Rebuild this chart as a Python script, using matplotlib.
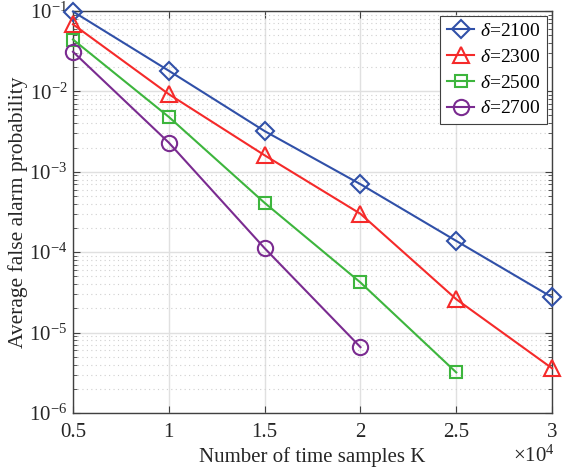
import numpy as np
import matplotlib
matplotlib.use("Agg")
import matplotlib.pyplot as plt
from matplotlib.ticker import LogLocator, NullFormatter

# Data
K_blue = [5000, 10000, 15000, 20000, 25000, 30000]
pfa_2100 = [0.098, 0.018, 0.0032, 7.0e-4, 1.38e-4, 2.75e-5]
K_red = [5000, 10000, 15000, 20000, 25000, 30000]
pfa_2300 = [0.068, 0.0092, 0.0016, 3.0e-4, 2.6e-5, 3.6e-6]
K_green = [5000, 10000, 15000, 20000, 25000]
pfa_2500 = [0.044, 0.0048, 4.1e-4, 4.2e-5, 3.2e-6]
K_purple = [5000, 10000, 15000, 20000]
pfa_2700 = [0.031, 0.0023, 1.12e-4, 6.6e-6]
labels = [r"$\delta$=2100", r"$\delta$=2300", r"$\delta$=2500", r"$\delta$=2700"]
xticks = [0.5, 1, 1.5, 2, 2.5, 3]
xticklabels = ["0.5", "1", "1.5", "2", "2.5", "3"]

plt.rcParams['font.family'] = ['Liberation Serif', 'DejaVu Serif']
plt.rcParams['mathtext.fontset'] = 'custom'
plt.rcParams['mathtext.it'] = 'Liberation Serif:italic'
plt.rcParams['mathtext.rm'] = 'Liberation Serif'

fig = plt.figure(figsize=(5.68, 4.71), dpi=100)
ax = fig.add_axes([0.1285, 0.123, 0.8435, 0.854])

series = [
    (K_blue, pfa_2100, "#3050a8", "D", 9),
    (K_red, pfa_2300, "#f52a2a", "^", 11),
    (K_green, pfa_2500, "#3db53d", "s", 8),
    (K_purple, pfa_2700, "#7a2b90", "o", 11),
]
for (k, p, c, m, ms), lab in zip(series, labels):
    ax.semilogy(np.array(k) / 1e4, p, color=c, marker=m, markersize=ms,
                markerfacecolor="none", markeredgewidth=1.5, linewidth=1.5,
                label=lab, clip_on=False, zorder=3)

ax.set_xlim(0.5, 3)
ax.set_ylim(1e-6, 1e-1)
ax.set_xticks(xticks)
ax.set_xticklabels(xticklabels)
ax.yaxis.set_major_locator(LogLocator(base=10, numticks=10))
ax.yaxis.set_minor_locator(LogLocator(base=10, subs=np.arange(2, 10), numticks=20))
ax.yaxis.set_minor_formatter(NullFormatter())

ax.grid(True, which="major", color="#e0e0e0", linewidth=1.0, linestyle="-")
ax.grid(True, which="minor", axis="y", color="#d0d0d0", linewidth=0.8, linestyle=(0, (1, 3)))
ax.set_axisbelow(True)

ax.tick_params(which="both", direction="in", top=True, right=True, labelsize=15,
               colors="#404040", labelcolor="#262626")
ax.tick_params(axis="x", pad=7)
ax.tick_params(axis="y", pad=4)
ax.tick_params(which="major", length=5)
ax.tick_params(which="minor", length=3)
for s in ax.spines.values():
    s.set_color("#404040")
    s.set_linewidth(1.0)

ax.set_xlabel("Number of time samples K", fontsize=15, color="#262626", labelpad=4)
ax.set_ylabel("Average false alarm probability", fontsize=15.5, color="#262626", labelpad=1)
ax.text(1.005, -0.108, r"$\times10^{4}$", transform=ax.transAxes, ha="right", va="center",
        fontsize=15, color="#262626")

leg = ax.legend(loc="upper right", fontsize=14, handlelength=1.4, handletextpad=0.3,
                borderpad=0.35, labelspacing=0.42, fancybox=False, framealpha=1,
                borderaxespad=0.25)
leg.get_frame().set_edgecolor("#404040")
leg.get_frame().set_linewidth(0.8)

plt.savefig("out.png", dpi=100)
